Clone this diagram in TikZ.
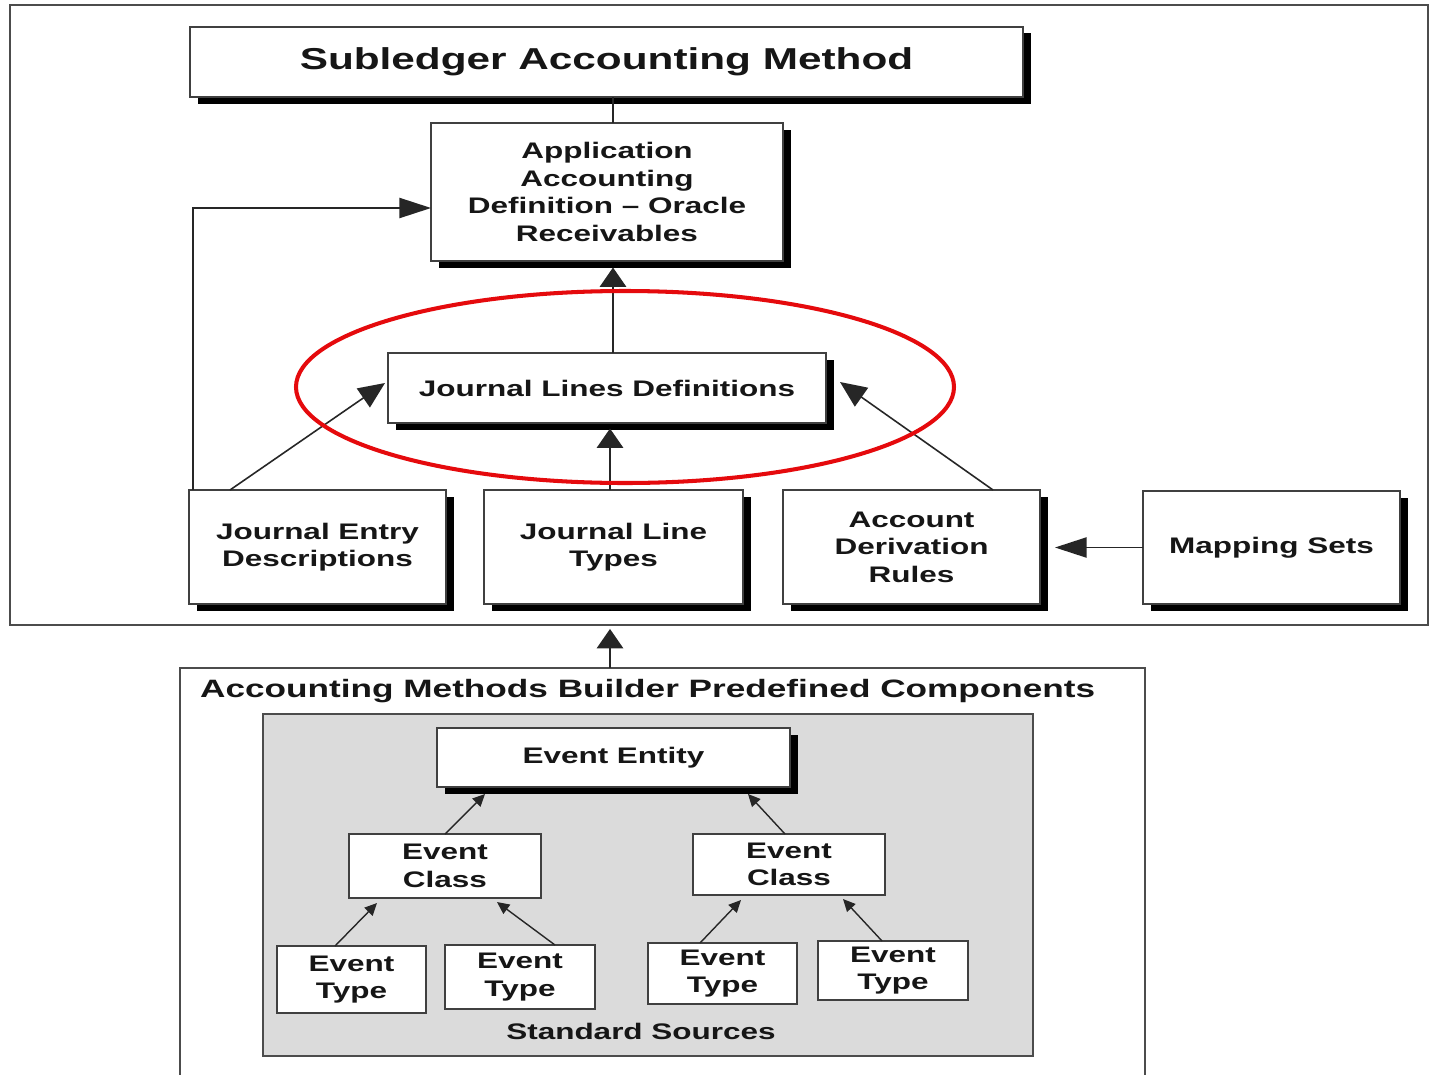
\documentclass[tikz,border=0pt]{standalone}
\usepackage{fontspec}
\setmainfont{Liberation Sans}[FakeStretch=1.4]
\usetikzlibrary{arrows.meta,shadows}
\newcommand\bodyfnt{\bfseries\fontsize{12.8}{15.6}\selectfont}
\newcommand\headfnt{\bfseries\fontsize{14.3}{17}\selectfont}
\newcommand\titlefnt{\bfseries\fontsize{17.2}{20}\selectfont}
\definecolor{ovalred}{HTML}{E50A0D}
\definecolor{ink}{HTML}{161616}
\begin{document}
\begin{tikzpicture}[x=0.02cm,y=-0.02cm,
  bx/.style={draw=black!75, line width=1.1pt, fill=white, inner sep=0pt, outer sep=0pt, align=center, text=ink, font=\bodyfnt},
  sz/.style 2 args={minimum width=#1*0.02cm, minimum height=#2*0.02cm},
  shd/.style={drop shadow={shadow xshift=0.15cm, shadow yshift=-0.13cm, fill=black, opacity=1}},
  vbig/.style={-{Triangle[length=11pt,width=15pt]}, line width=0.9pt, draw=black!85},
  hbig/.style={-{Triangle[length=18pt,width=11.5pt]}, line width=0.9pt, draw=black!85},
  dbig/.style={-{Triangle[length=15pt,width=13pt]}, line width=0.9pt, draw=black!85},
  small/.style={-{Triangle[length=7pt,width=6.5pt]}, line width=0.8pt, draw=black!85},
  frame/.style={draw=black!70, line width=1.1pt}
]
\useasboundingbox[fill=white] (0,0) rectangle (1430,1075);

% frames
\node[frame, inner sep=0pt, sz={1418}{620}] (topframe) at (719,315) {};
\draw[frame] (180,1080) -- (180,668) -- (1145,668) -- (1145,1080);
\coordinate (lowtop) at (610,668);
\node[text=ink, font=\headfnt, anchor=west] (amb) at (194,691) {Accounting Methods Builder Predefined Components};
\node[draw=black!70, line width=1.1pt, fill=black!14, inner sep=0pt, sz={770}{342}] (gray) at (648,885) {};

% upper boxes
\node[bx, shd, sz={833}{70}, font=\titlefnt] (title) at (606.5,62) {Subledger Accounting Method};
\node[bx, shd, sz={352}{138}] (aad) at (607,192) {Application\\Accounting\\Definition -- Oracle\\Receivables};
\node[bx, shd, sz={438}{70}] (jld) at (607,388) {Journal Lines Definitions};
\node[bx, shd, sz={257}{114}] (jed) at (317.5,547) {Journal Entry\\Descriptions};
\node[bx, shd, sz={259}{114}] (jlt) at (613.5,547) {Journal Line\\Types};
\node[bx, shd, sz={257}{114}] (adr) at (911.5,547) {Account\\Derivation\\Rules};
\node[bx, shd, sz={257}{113}] (ms) at (1271.5,547.5) {Mapping Sets};

% lower boxes
\node[bx, shd, sz={353}{59}] (ee) at (613.5,757.5) {Event Entity};
\node[bx, sz={192}{64}] (ecl) at (445,866) {Event\\Class};
\node[bx, sz={192}{61}] (ecr) at (789,864.5) {Event\\Class};
\node[bx, sz={149}{67}] (et1) at (351.5,979.5) {Event\\Type};
\node[bx, sz={150}{64}] (et2) at (520,977) {Event\\Type};
\node[bx, sz={149}{61}] (et3) at (722.5,973.5) {Event\\Type};
\node[bx, sz={150}{59}] (et4) at (893,970.5) {Event\\Type};
\node[text=ink, font=\bodyfnt] (std) at (641,1031) {Standard Sources};

% connectors
\draw[line width=0.9pt, black!85] ([xshift=0.12cm]aad.north) -- ([xshift=0.12cm]aad.north |- title.south);
\draw[vbig] ([xshift=0.12cm]jld.north) -- ([xshift=0.12cm,yshift=-0.13cm]jld.north |- aad.south);
\draw[vbig] ([xshift=-0.07cm]jlt.north) -- ([xshift=-0.07cm,yshift=-0.11cm]jlt.north |- jld.south);
\draw[dbig] ([xshift=0.82cm]jed.north west) -- ([xshift=-0.06cm,yshift=0.1cm]jld.west);
\draw[dbig] ([xshift=-0.94cm]adr.north east) -- ([xshift=0.28cm,yshift=0.12cm]jld.east);
\draw[hbig] ([xshift=0.08cm]jed.north west) |- ([yshift=-0.32cm]aad.west);
\draw[hbig] (ms.west) -- ([xshift=0.3cm]adr.east |- ms.west);
\draw[vbig] (lowtop) -- ([yshift=-0.06cm]lowtop |- topframe.south);

\draw[small] ([xshift=0cm]ecl.north) -- ([xshift=-2.57cm,yshift=-0.14cm]ee.south);
\draw[small] ([xshift=-0.08cm]ecr.north) -- ([xshift=2.69cm,yshift=-0.14cm]ee.south);
\draw[small] ([xshift=-0.33cm]et1.north) -- ([xshift=-1.36cm,yshift=-0.1cm]ecl.south);
\draw[small] ([xshift=0.7cm]et2.north) -- ([xshift=1.04cm,yshift=-0.08cm]ecl.south);
\draw[small] ([xshift=-0.45cm]et3.north) -- ([xshift=-0.96cm,yshift=-0.1cm]ecr.south);
\draw[small] ([xshift=-0.22cm]et4.north) -- ([xshift=1.08cm,yshift=-0.08cm]ecr.south);

% red oval
\draw[ovalred, line width=2.3pt] (625,387) ellipse [x radius=329*0.02cm, y radius=96*0.02cm];
\end{tikzpicture}
\end{document}
